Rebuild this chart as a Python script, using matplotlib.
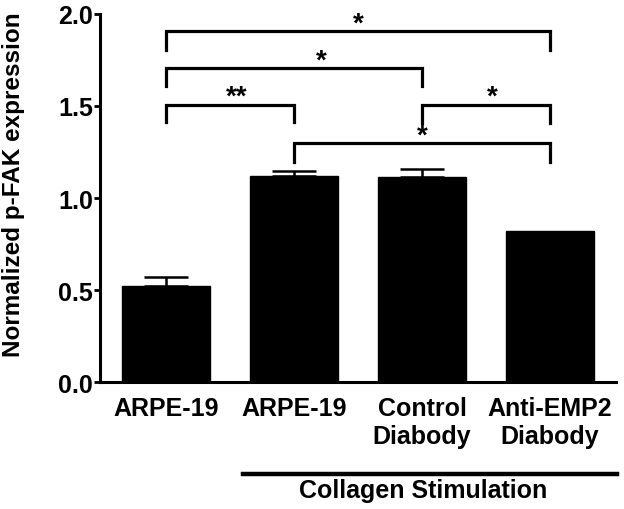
import matplotlib
matplotlib.use("Agg")
import matplotlib.pyplot as plt
from matplotlib.lines import Line2D

plt.rcParams['font.family'] = ['Liberation Sans', 'DejaVu Sans']
plt.rcParams['font.weight'] = 'bold'

categories = ["ARPE-19", "ARPE-19", "Control\nDiabody", "Anti-EMP2\nDiabody"]
values = [0.523, 1.121, 1.116, 0.822]
errors = [0.046, 0.027, 0.039, 0.0]

# significance brackets: (left bar, right bar, line height, leg bottom, label, label x)
bracket_pairs = [(0, 3), (0, 2), (0, 1), (2, 3), (1, 3)]
bracket_tops = [1.906, 1.705, 1.507, 1.507, 1.297]
bracket_bottoms = [1.806, 1.607, 1.411, 1.410, 1.194]
bracket_labels = ["*", "*", "**", "*", "*"]
bracket_label_x = [1.50, 1.21, 0.55, 2.55, 2.00]

ylabel = "Normalized p-FAK expression"
group_label = "Collagen Stimulation"
yticks = [0.0, 0.5, 1.0, 1.5, 2.0]

fig = plt.figure(figsize=(6.24, 5.10), dpi=100)
ax = fig.add_axes([0.1603, 0.249, 0.827, 0.7216])

x = list(range(len(categories)))
ax.bar(x, values, width=0.69, color='black', edgecolor='black', zorder=2)
err_x = [xi for xi, e in zip(x, errors) if e > 0]
err_v = [v for v, e in zip(values, errors) if e > 0]
err_e = [e for e in errors if e > 0]
ax.errorbar(err_x, err_v, yerr=[[0]*len(err_e), err_e], fmt='none', ecolor='black',
            elinewidth=1.8, capsize=15.5, capthick=1.8, zorder=1)

ax.set_xlim(-0.516, 3.516)
ax.set_ylim(0, 2.0)
ax.set_yticks(yticks)
ax.set_yticklabels([f"{v:.1f}" for v in yticks])
ax.set_xticks(x)
ax.set_xticklabels(categories)

for s in ['top', 'right']:
    ax.spines[s].set_visible(False)
for s in ['left', 'bottom']:
    ax.spines[s].set_linewidth(2.2)

ax.tick_params(axis='y', length=4, width=2.0, pad=1, labelsize=18)
ax.tick_params(axis='x', length=0, pad=10, labelsize=18)
for lbl in ax.get_xticklabels() + ax.get_yticklabels():
    lbl.set_fontweight('bold')

ax.set_ylabel(ylabel, fontsize=17.5, fontweight='bold')
ax.yaxis.set_label_coords(-0.145, 0.54)

for (a, b), top, bot, lab, lx in zip(bracket_pairs, bracket_tops, bracket_bottoms,
                                     bracket_labels, bracket_label_x):
    ax.plot([a, a, b, b], [bot, top, top, bot], color='black', lw=2.3,
            solid_joinstyle='miter', clip_on=False, zorder=3)
    ax.text(lx, top + 0.005, lab, ha='center', va='baseline', fontsize=20,
            fontweight='bold', clip_on=False)

trans = ax.get_xaxis_transform()
ax.add_line(Line2D([0.60, 3.52], [-0.25, -0.25], transform=trans, color='black',
                   lw=3.2, clip_on=False))
ax.text(2.005, -0.262, group_label, transform=trans, ha='center', va='top',
        fontsize=18, fontweight='bold')

fig.savefig("out.png", dpi=100)
